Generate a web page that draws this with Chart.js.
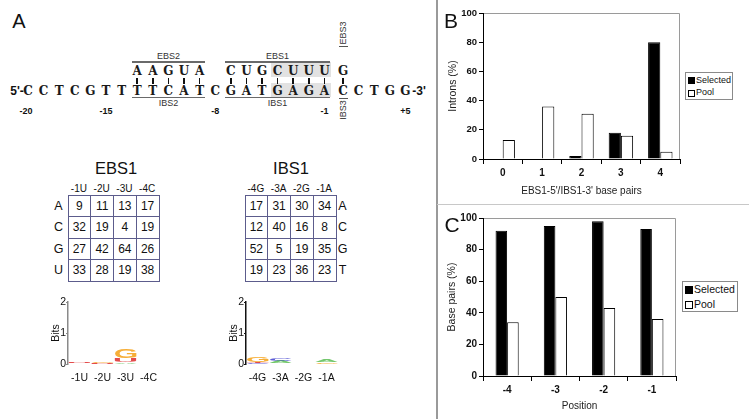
<!DOCTYPE html>
<html><head><meta charset="utf-8">
<script src="https://cdn.jsdelivr.net/npm/chart.js@4"></script>
<style>
html,body{margin:0;padding:0;background:#fff;}
#root{position:relative;width:749px;height:419px;overflow:hidden;font-family:"Liberation Sans",Arial,sans-serif;color:#111;background:#fff;}
.t{position:absolute;transform:translate(-50%,-50%);white-space:nowrap;line-height:1;}
.ln{position:absolute;}
canvas{position:absolute;}
table.grid{position:absolute;border-collapse:collapse;table-layout:fixed;}
table.grid td{border:1px solid #5c5c8c;text-align:center;vertical-align:middle;font-size:12px;padding:0;color:#111;box-sizing:border-box;}
.leg{position:absolute;border:1px solid #8a8a8a;background:#fff;box-sizing:border-box;}
.leg div{position:absolute;white-space:nowrap;line-height:1;}
.sw{position:absolute;box-sizing:border-box;border:1px solid #000;}
</style></head><body><div id="root"></div>
<script>
// ---------- DATA ----------
const seqBottom = ['C','C','T','C','G','T','T','T','T','C','A','T','C','G','A','T','G','A','G','A','C','C','T','G','G'];
const ebs2Top = ['A','A','G','U','A'];            // over -13..-9
const ebs1Top = ['C','U','G','C','U','U','U'];    // over -7..-1
const ebs3Top = ['G'];                            // over +1
const posLabels = ['-20','-15','-8','-1','+5'];

const ebs1Cols = ['-1U','-2U','-3U','-4C'];
const ebs1Rows = ['A','C','G','U'];
const ebs1Counts = [[9,11,13,17],[32,19,4,19],[27,42,64,26],[33,28,19,38]];
const ibs1Cols = ['-4G','-3A','-2G','-1A'];
const ibs1Rows = ['A','C','G','T'];
const ibs1Counts = [[17,31,30,34],[12,40,16,8],[52,5,19,35],[19,23,36,23]];

// sequence logos (bits per stacked letter, bottom to top)
const ebsLogoL1 = ['C','C','A',''];   const ebsLogoB1 = [0.03,0.015,0.06,0];
const ebsLogoL2 = ['U','U','U',''];   const ebsLogoB2 = [0.03,0.02,0.12,0];
const ebsLogoL3 = ['','G','G',''];    const ebsLogoB3 = [0,0.04,0.30,0];
const ibsLogoL1 = ['C','T','','G'];   const ibsLogoB1 = [0.04,0.03,0,0.05];
const ibsLogoL2 = ['T','A','','A'];   const ibsLogoB2 = [0.03,0.06,0,0.06];
const ibsLogoL3 = ['G','C','',''];    const ibsLogoB3 = [0.15,0.09,0,0];

const bpCategories = ['0','1','2','3','4'];
const bpSelected = [0,0,2,18,80];
const bpPool = [13,36,31,16,5];

const posCategories = ['-4','-3','-2','-1'];
const posSelected = [92,95,98,93];
const posPool = [34,50,43,36];

// ---------- HELPERS ----------
const root = document.getElementById('root');
function txt(s,x,y,style){const d=document.createElement('div');d.className='t';d.textContent=s;d.style.left=x+'px';d.style.top=y+'px';Object.assign(d.style,style||{});root.appendChild(d);return d;}
function rect(x,y,w,h,bg){const d=document.createElement('div');d.className='ln';Object.assign(d.style,{left:x+'px',top:y+'px',width:w+'px',height:h+'px',background:bg});root.appendChild(d);return d;}
function canvas(x,y,w,h){const c=document.createElement('canvas');c.width=w;c.height=h;c.style.left=x+'px';c.style.top=y+'px';c.style.width=w+'px';c.style.height=h+'px';root.appendChild(c);return c;}

// dividers
rect(436,0,1.5,419,'#9a9a9a');
rect(437,203.5,312,1.5,'#c8c8c8');

// ---------- PANEL A ----------
txt('A',19,21,{fontSize:'20px'});
const xOf = i => 28 + 15.6*i + (i>=20 ? 3 : 0);
const yB = 90.5, yT = 71;
const mono = {fontFamily:'"DejaVu Serif","Liberation Serif",serif',fontWeight:'bold',fontSize:'12px',color:'#1a1a1a'};
// shading
rect(xOf(16)-7,62,xOf(19)-xOf(16)+14,15,'#e2e2e2');
rect(xOf(16)-7,83,xOf(19)-xOf(16)+14,14,'#e2e2e2');
txt("5'-",17,yB,{fontWeight:'bold',fontSize:'12px'});
seqBottom.forEach((c,i)=>txt(c,xOf(i),yB,mono));
txt("-3'",419,yB,{fontWeight:'bold',fontSize:'12px'});
ebs2Top.forEach((c,k)=>{txt(c,xOf(7+k),yT,mono);rect(xOf(7+k)-0.75,78,1.5,5.5,'#111');});
ebs1Top.forEach((c,k)=>{txt(c,xOf(13+k),yT,mono);rect(xOf(13+k)-0.75,78,1.5,5.5,'#111');});
ebs3Top.forEach((c,k)=>{txt(c,xOf(20+k),yT,mono);rect(xOf(20+k)-0.75,77.5,1.5,6.5,'#111');});
// bracket lines + labels
function bracket(i0,i1,lbl){
  const x0=xOf(i0)-5.5,x1=xOf(i1)+5.5;
  rect(x0,61,x1-x0,1.5,'#6a6a6a');
  txt('E'+lbl,(x0+x1)/2,55.5,{fontSize:'9px',color:'#333'});
  rect(x0,96.5,x1-x0,1.5,'#6a6a6a');
  txt('I'+lbl,(x0+x1)/2,103,{fontSize:'9px',color:'#333'});
}
bracket(7,11,'BS2');
bracket(13,19,'BS1');
txt('EBS3',xOf(20),33,{fontSize:'9px',color:'#333',transform:'translate(-50%,-50%) rotate(-90deg)'});
txt('IBS3',xOf(20),110,{fontSize:'9px',color:'#333',transform:'translate(-50%,-50%) rotate(-90deg)'});
rect(xOf(20)-4.5,45.5,9,1,'#555');
rect(xOf(20)-4.5,97.5,9,1,'#555');
[0,5,12,19,24].forEach((i,k)=>txt(posLabels[k],xOf(i)-(k===0?2:0),110.5,{fontWeight:'bold',fontSize:'9px'}));

// tables
function table(x,y,cols,rows,counts,title,tx,labelSide){
  txt(title,tx,168,{fontSize:'16.5px'});
  const cw=22.75;
  cols.forEach((c,j)=>txt(c,x+cw*(j+0.5),189,{fontSize:'10px'}));
  const t=document.createElement('table');t.className='grid';
  t.style.left=x+'px';t.style.top=y+'px';t.style.width='92px';t.style.height='87px';
  counts.forEach((r,i)=>{const tr=document.createElement('tr');r.forEach(v=>{const td=document.createElement('td');td.textContent=v;td.style.height='21.5px';tr.appendChild(td);});t.appendChild(tr);});
  root.appendChild(t);
  rows.forEach((r,i)=>txt(r,labelSide==='left'?x-9:x+98,y+10.75+21.5*i+0.5,{fontSize:'12.5px'}));
}
table(67.5,194.5,ebs1Cols,ebs1Rows,ebs1Counts,'EBS1',116,'left');
table(244.5,194.5,ibs1Cols,ibs1Rows,ibs1Counts,'IBS1',291,'right');

// ---------- CHARTS ----------
Chart.defaults.font.family = '"Liberation Sans", Arial, sans-serif';
Chart.defaults.color = '#111';

const logoColors = {A:'rgba(70,180,60,0.75)',C:'rgba(40,40,200,0.75)',G:'rgba(245,160,20,0.85)',U:'rgba(220,30,30,0.8)',T:'rgba(220,30,30,0.8)'};
const logoLetters = {
  id:'logoLetters',
  afterDatasetsDraw(chart){
    const ctx=chart.ctx;
    chart.data.datasets.forEach((ds,di)=>{
      const meta=chart.getDatasetMeta(di);
      meta.data.forEach((bar,i)=>{
        const L=ds.letters[i]; if(!L) return;
        const p=bar.getProps(['x','y','base','width'],true);
        const h=Math.abs(p.base-p.y); if(h<0.3) return;
        ctx.save();
        ctx.font='bold 40px "Liberation Sans"';
        const m=ctx.measureText(L);
        const asc=m.actualBoundingBoxAscent, desc=m.actualBoundingBoxDescent;
        const gw=m.actualBoundingBoxLeft+m.actualBoundingBoxRight;
        ctx.translate(p.x-p.width/2, Math.min(p.y,p.base));
        ctx.scale(p.width/gw, h/(asc+desc));
        ctx.fillStyle=logoColors[L];
        ctx.fillText(L, m.actualBoundingBoxLeft, asc);
        ctx.restore();
      });
    });
  }
};
function logo(x,y,labels,layers,axisColor,titlePad){
  const c=canvas(x,y,130,100);
  new Chart(c,{
    type:'bar',
    data:{labels,datasets:layers.map(l=>({data:l[1],letters:l[0],backgroundColor:'rgba(0,0,0,0)',borderWidth:0,barPercentage:1,categoryPercentage:0.96}))},
    options:{responsive:false,animation:false,devicePixelRatio:1,
      layout:{padding:{top:10,right:10,left:0,bottom:0}},
      plugins:{legend:{display:false},tooltip:{enabled:false}},
      scales:{
        x:{stacked:true,grid:{display:false,drawTicks:false},border:{display:false},
           ticks:{font:{size:10.5},color:'#111',padding:8,maxRotation:0,minRotation:0},
           afterFit(s){s.height=28;}},
        y:{stacked:true,min:0,max:2,ticks:{stepSize:1,font:{size:10.5},color:'#111',padding:0},
           grid:{display:true,drawOnChartArea:false,tickLength:2,color:axisColor},
           border:{color:axisColor,width:1.5},
           title:{display:true,text:'Bits',font:{size:10.5},color:'#111',padding:{top:titlePad,bottom:0}},
           afterFit(s){s.width=28;}}
      }},
    plugins:[logoLetters]
  });
}
logo(40,292,ebs1Cols,[[ebsLogoL1,ebsLogoB1],[ebsLogoL2,ebsLogoB2],[ebsLogoL3,ebsLogoB3]],'#8a8a8a',10);
logo(218,292,ibs1Cols,[[ibsLogoL1,ibsLogoB1],[ibsLogoL2,ibsLogoB2],[ibsLogoL3,ibsLogoB3]],'#111',10);

const frame = {id:'frame',beforeDraw(chart){const a=chart.chartArea,ctx=chart.ctx;ctx.save();ctx.strokeStyle='#9a9a9a';ctx.lineWidth=1;ctx.beginPath();ctx.moveTo(a.left,a.top+0.5);ctx.lineTo(a.right-0.5,a.top+0.5);ctx.lineTo(a.right-0.5,a.bottom);ctx.stroke();ctx.restore();}};

function barChart(x,y,w,h,labels,sel,pool,o){
  const c=canvas(x,y,w,h);
  new Chart(c,{
    type:'bar',
    data:{labels,datasets:[
      {label:'Selected',data:sel,backgroundColor:'#000',borderColor:'#000',borderWidth:1,barPercentage:1,categoryPercentage:o.cp},
      {label:'Pool',data:pool,backgroundColor:'#fff',borderColor:'#000',borderWidth:1,barPercentage:1,categoryPercentage:o.cp}
    ]},
    options:{responsive:false,animation:false,devicePixelRatio:1,
      layout:{padding:{top:13,right:o.pr,left:0,bottom:0}},
      plugins:{legend:{display:false},tooltip:{enabled:false}},
      scales:{
        x:{grid:{offset:true,drawOnChartArea:false,tickLength:5,color:'#000'},border:{color:'#000'},
           ticks:{font:{size:10,weight:'bold'},color:'#111',padding:3,maxRotation:0,minRotation:0},
           title:{display:true,text:o.xt,font:{size:10},color:'#222',padding:{top:0,bottom:o.xtp}},
           afterFit(s){s.height=o.xh;}},
        y:{min:0,max:100,ticks:{stepSize:20,font:{size:o.yts,weight:'bold'},color:'#111',padding:2},
           grid:{drawOnChartArea:false,tickLength:4,color:'#000'},border:{color:'#000'},
           title:{display:true,text:o.yt,font:{size:o.ytf},color:'#222',padding:{top:o.ytp,bottom:0}},
           afterFit(s){s.width=43;}}
      }},
    plugins:[frame]
  });
}
barChart(440,0,245,200,bpCategories,bpSelected,bpPool,{cp:0.62,pr:5,xt:"EBS1-5'/IBS1-3' base pairs",xtp:3,xh:41,yt:'Introns (%)',ytf:10.5,ytp:6.5,yts:9.5});
barChart(440,205,242,214,posCategories,posSelected,posPool,{cp:0.48,pr:6,xt:'Position',xtp:7,xh:43,yt:'Base pairs (%)',ytf:10.5,ytp:6,yts:10});

txt('B',451,20,{fontSize:'21px'});
txt('C',452,224,{fontSize:'21px'});

// legends
function legend(x,y,w,h,fs,sw,items){
  const d=document.createElement('div');d.className='leg';
  Object.assign(d.style,{left:x+'px',top:y+'px',width:w+'px',height:h+'px'});
  items.forEach((it,i)=>{
    const s=document.createElement('span');s.className='sw';
    Object.assign(s.style,{left:'2px',top:(it.y-sw/2)+'px',width:sw+'px',height:sw+'px',background:it.c});
    d.appendChild(s);
    const t=document.createElement('div');t.textContent=it.t;
    Object.assign(t.style,{left:(3+sw)+'px',top:(it.y-fs*0.55)+'px',fontSize:fs+'px'});
    d.appendChild(t);
  });
  root.appendChild(d);
}
legend(685,72,48,28,9,7,[{t:'Selected',c:'#000',y:7.5},{t:'Pool',c:'#fff',y:20}]);
legend(682,281,56,31,10.5,8,[{t:'Selected',c:'#000',y:8},{t:'Pool',c:'#fff',y:22.5}]);
</script>
</body></html>
